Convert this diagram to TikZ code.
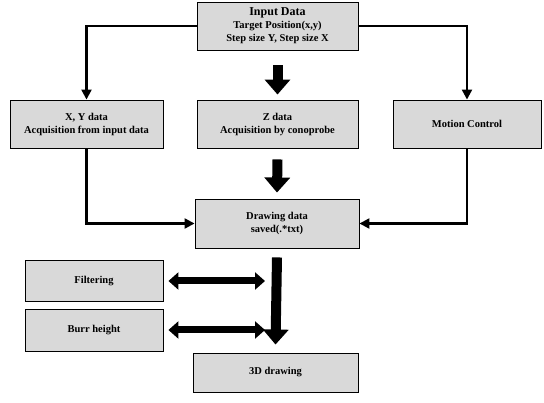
\documentclass[tikz,border=0pt]{standalone}
\usepackage{fontspec}
\setmainfont{Liberation Serif}
\usetikzlibrary{arrows.meta}
\tikzset{every picture/.style={line width=0.75pt}}
\tikzset{
  box/.style={draw, line width=0.9pt, fill=black!15, inner sep=0pt, align=center,
    font=\fontsize{10.5}{13}\selectfont\bfseries},
  conn/.style={line width=2.2pt, -{Triangle[width=10pt,length=10pt]}},
  bigarrow/.style={line width=10pt, -{Triangle[width=25pt,length=15pt]}},
  dblarrow/.style={line width=7pt, {Triangle[width=17pt,length=10pt]}-{Triangle[width=17pt,length=10pt]}},
}

\begin{document}
\begin{tikzpicture}[x=1pt,y=1pt,yscale=-1,xscale=1]
\useasboundingbox (0,0) rectangle (544,403);

%Shape: Input box
\node [box, minimum width=161pt, minimum height=48pt] (input) at (277.5,26)
  {{\fontsize{12}{13}\selectfont Input Data}\\Target Position(x,y)\\Step size Y, Step size X};
%Shape: XY box
\node [box, minimum width=153pt, minimum height=48pt] (xy) at (86.5,124)
  {X, Y data\\Acquisition from input data};
%Shape: Z box
\node [box, minimum width=161pt, minimum height=48pt] (z) at (277.5,124)
  {Z data\\Acquisition by conoprobe};
%Shape: Motion box
\node [box, minimum width=148pt, minimum height=48pt] (motion) at (467,124)
  {Motion Control};
%Shape: Drawing data box
\node [box, minimum width=164pt, minimum height=49pt] (draw) at (277,223.5)
  {Drawing data\\saved(.*txt)};
%Shape: Filtering box
\node [box, minimum width=138pt, minimum height=41pt] (filter) at (94,281)
  {Filtering};
%Shape: Burr box
\node [box, minimum width=138pt, minimum height=42pt] (burr) at (94,330)
  {Burr height};
%Shape: 3D box
\node [box, minimum width=165pt, minimum height=39pt] (d3) at (275.5,372.5)
  {3D drawing};

% Thin connectors
\draw [conn] (input.west) -| (xy.north);
\draw [conn] (input.east) -| (motion.north);
\draw [conn] (xy.south) |- (draw.west);
\draw [conn] (motion.south) |- (draw.east);

% Big arrows (yshift runs downwards here because of yscale=-1)
\draw [bigarrow] ([yshift=15pt]input.south) -- ([yshift=-5pt]z.north);
\draw [bigarrow] ([yshift=11pt]z.south) -- ([yshift=-6pt]draw.north);
\draw [bigarrow] ([yshift=9pt]draw.south) -- ([yshift=-8pt]d3.north);

% Double arrows
\coordinate (spine) at ([xshift=-12pt]draw.south);
\draw [dblarrow] ([xshift=5pt]filter.east) -- (filter.east -| spine);
\draw [dblarrow] ([xshift=5pt]burr.east) -- (burr.east -| spine);
\end{tikzpicture}
\end{document}
